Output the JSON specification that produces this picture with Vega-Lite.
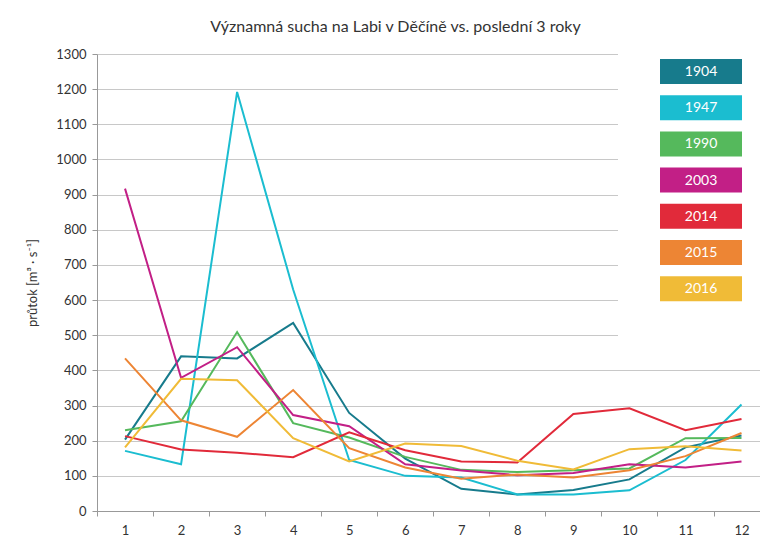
{
  "$schema": "https://vega.github.io/schema/vega-lite/v6.json",
  "autosize": "none",
  "padding": {"left": 97, "top": 54, "right": 0, "bottom": 31},
  "width": 663,
  "height": 457,
  "title": {
    "text": "Významná sucha na Labi v Děčíně vs. poslední 3 roky",
    "font": "Lato",
    "fontSize": 16,
    "fontWeight": "normal",
    "color": "#333333",
    "anchor": "middle",
    "dx": -33,
    "offset": -18
  },
  "config": {
    "view": {"stroke": null},
    "font": "Lato"
  },
  "data": {
    "values": [
      {"year": "1904", "month": 1, "flow": 203}, {"year": "1904", "month": 2, "flow": 440}, {"year": "1904", "month": 3, "flow": 434}, {"year": "1904", "month": 4, "flow": 535}, {"year": "1904", "month": 5, "flow": 279}, {"year": "1904", "month": 6, "flow": 149}, {"year": "1904", "month": 7, "flow": 63}, {"year": "1904", "month": 8, "flow": 47}, {"year": "1904", "month": 9, "flow": 60}, {"year": "1904", "month": 10, "flow": 90}, {"year": "1904", "month": 11, "flow": 181}, {"year": "1904", "month": 12, "flow": 215},
      {"year": "1947", "month": 1, "flow": 171}, {"year": "1947", "month": 2, "flow": 133}, {"year": "1947", "month": 3, "flow": 1192}, {"year": "1947", "month": 4, "flow": 630}, {"year": "1947", "month": 5, "flow": 145}, {"year": "1947", "month": 6, "flow": 100}, {"year": "1947", "month": 7, "flow": 95}, {"year": "1947", "month": 8, "flow": 47}, {"year": "1947", "month": 9, "flow": 47}, {"year": "1947", "month": 10, "flow": 59}, {"year": "1947", "month": 11, "flow": 145}, {"year": "1947", "month": 12, "flow": 303},
      {"year": "1990", "month": 1, "flow": 230}, {"year": "1990", "month": 2, "flow": 255}, {"year": "1990", "month": 3, "flow": 509}, {"year": "1990", "month": 4, "flow": 250}, {"year": "1990", "month": 5, "flow": 209}, {"year": "1990", "month": 6, "flow": 154}, {"year": "1990", "month": 7, "flow": 117}, {"year": "1990", "month": 8, "flow": 111}, {"year": "1990", "month": 9, "flow": 116}, {"year": "1990", "month": 10, "flow": 121}, {"year": "1990", "month": 11, "flow": 207}, {"year": "1990", "month": 12, "flow": 208},
      {"year": "2003", "month": 1, "flow": 917}, {"year": "2003", "month": 2, "flow": 379}, {"year": "2003", "month": 3, "flow": 466}, {"year": "2003", "month": 4, "flow": 273}, {"year": "2003", "month": 5, "flow": 241}, {"year": "2003", "month": 6, "flow": 133}, {"year": "2003", "month": 7, "flow": 115}, {"year": "2003", "month": 8, "flow": 102}, {"year": "2003", "month": 9, "flow": 108}, {"year": "2003", "month": 10, "flow": 133}, {"year": "2003", "month": 11, "flow": 124}, {"year": "2003", "month": 12, "flow": 141},
      {"year": "2014", "month": 1, "flow": 213}, {"year": "2014", "month": 2, "flow": 175}, {"year": "2014", "month": 3, "flow": 166}, {"year": "2014", "month": 4, "flow": 153}, {"year": "2014", "month": 5, "flow": 224}, {"year": "2014", "month": 6, "flow": 173}, {"year": "2014", "month": 7, "flow": 141}, {"year": "2014", "month": 8, "flow": 138}, {"year": "2014", "month": 9, "flow": 276}, {"year": "2014", "month": 10, "flow": 292}, {"year": "2014", "month": 11, "flow": 230}, {"year": "2014", "month": 12, "flow": 262},
      {"year": "2015", "month": 1, "flow": 434}, {"year": "2015", "month": 2, "flow": 258}, {"year": "2015", "month": 3, "flow": 211}, {"year": "2015", "month": 4, "flow": 344}, {"year": "2015", "month": 5, "flow": 179}, {"year": "2015", "month": 6, "flow": 124}, {"year": "2015", "month": 7, "flow": 92}, {"year": "2015", "month": 8, "flow": 104}, {"year": "2015", "month": 9, "flow": 95}, {"year": "2015", "month": 10, "flow": 116}, {"year": "2015", "month": 11, "flow": 156}, {"year": "2015", "month": 12, "flow": 222},
      {"year": "2016", "month": 1, "flow": 181}, {"year": "2016", "month": 2, "flow": 376}, {"year": "2016", "month": 3, "flow": 372}, {"year": "2016", "month": 4, "flow": 207}, {"year": "2016", "month": 5, "flow": 141}, {"year": "2016", "month": 6, "flow": 192}, {"year": "2016", "month": 7, "flow": 185}, {"year": "2016", "month": 8, "flow": 143}, {"year": "2016", "month": 9, "flow": 118}, {"year": "2016", "month": 10, "flow": 176}, {"year": "2016", "month": 11, "flow": 184}, {"year": "2016", "month": 12, "flow": 172}
    ]
  },
  "mark": {"type": "line", "strokeWidth": 2},
  "encoding": {
    "x": {
      "field": "month",
      "type": "quantitative",
      "scale": {"domain": [0.5, 12.33], "nice": false, "zero": false},
      "axis": {
        "title": null,
        "values": [1, 2, 3, 4, 5, 6, 7, 8, 9, 10, 11, 12],
        "grid": false,
        "tickOffset": -28,
        "labelOffset": 28,
        "tickSize": 5,
        "tickColor": "#999999",
        "domainColor": "#999999",
        "labelFontSize": 13,
        "labelColor": "#333333",
        "labelPadding": 8,
        "labelFont": "Lato"
      }
    },
    "y": {
      "field": "flow",
      "type": "quantitative",
      "scale": {"domain": [0, 1300], "nice": false},
      "axis": {
        "title": "průtok [m³ · s⁻¹]",
        "titleFont": "Lato",
        "titleFontSize": 13,
        "titleFontWeight": "normal",
        "titleColor": "#333333",
        "titlePadding": 16,
        "format": "d",
        "values": [0, 100, 200, 300, 400, 500, 600, 700, 800, 900, 1000, 1100, 1200, 1300],
        "grid": true,
        "gridColor": "#c8c8c8",
        "gridWidth": 1,
        "tickSize": 5,
        "tickColor": "#999999",
        "domainColor": "#999999",
        "labelFontSize": 13,
        "labelColor": "#333333",
        "labelPadding": 6,
        "labelFont": "Lato"
      }
    },
    "color": {
      "field": "year",
      "type": "nominal",
      "scale": {
        "domain": ["1904", "1947", "1990", "2003", "2014", "2015", "2016"],
        "range": ["#177b8c", "#1bbdd0", "#55b95c", "#c21f86", "#e12a3a", "#ed8534", "#f0bb37"]
      },
      "legend": {
        "title": null,
        "orient": "none",
        "legendX": 521,
        "legendY": -37,
        "padding": 42,
        "fillColor": "white",
        "symbolType": "M-1,-0.305H1V0.305H-1Z",
        "symbolSize": 6724,
        "symbolStrokeWidth": 0,
        "rowPadding": 9.2,
        "labelAlign": "center",
        "labelBaseline": "middle",
        "labelOffset": -41,
        "labelColor": "white",
        "labelFontSize": 14,
        "labelFont": "Lato",
        "encode": {
          "symbols": {
            "update": {
              "fill": {"scale": "color", "field": "value"},
              "stroke": {"value": "transparent"},
              "opacity": {"value": 1},
              "y": {"value": 12.5}
            }
          },
          "labels": {
            "update": {
              "y": {"value": 13}
            }
          }
        }
      }
    }
  }
}
